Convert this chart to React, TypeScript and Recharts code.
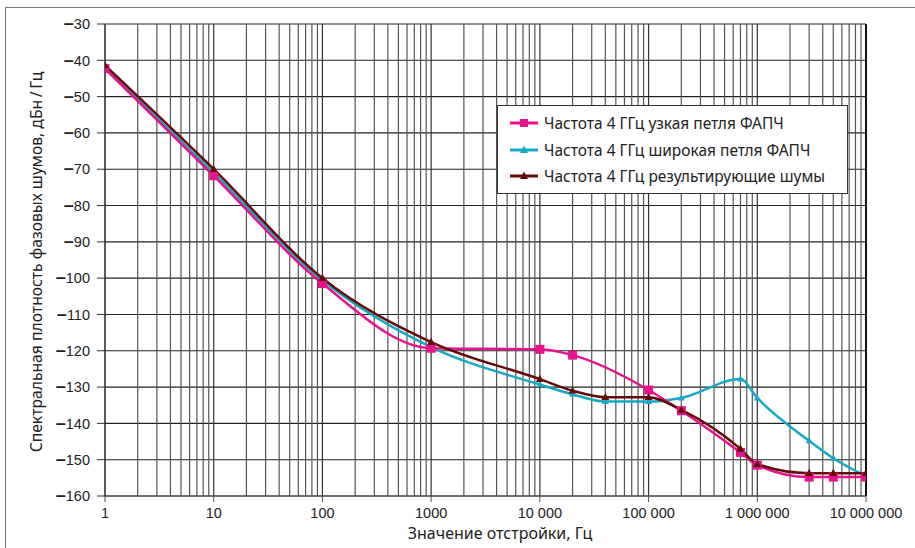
import React from 'react';
import { LineChart, Line, XAxis, YAxis, CartesianGrid, ReferenceLine, Legend, Label } from 'recharts';

// ---- data ----
const xTicks = [1, 10, 100, 1000, 10000, 100000, 1000000, 10000000];
const xTickLabels = ['1', '10', '100', '1000', '10 000', '100 000', '1 000 000', '10 000 000'];
const yTicks = [-160, -150, -140, -130, -120, -110, -100, -90, -80, -70, -60, -50, -40, -30];
const minorMultipliers = [2, 3, 4, 5, 6, 7, 8, 9];

const narrowX = [1, 10, 100, 1000, 10000, 20000, 100000, 200000, 700000, 1000000, 3000000, 5000000, 10000000];
const narrowY = [-42.3, -71.8, -101.5, -119.3, -119.6, -121.2, -130.8, -136.5, -148, -151.5, -154.8, -154.8, -154.8];

const wideX = [1, 10, 100, 1000, 10000, 20000, 40000, 100000, 200000, 700000, 1000000, 3000000, 5000000, 10000000];
const wideY = [-42, -71, -100.6, -119, -129.3, -132, -134, -134, -133, -127.8, -133, -144.8, -149.6, -154.5];

const totalX = [1, 10, 100, 1000, 10000, 20000, 40000, 100000, 200000, 700000, 1000000, 3000000, 5000000, 10000000];
const totalY = [-41.4, -70, -100, -117.6, -127.8, -131, -132.8, -132.8, -136.3, -147, -151.2, -153.7, -153.7, -153.7];

const seriesNames = [
  'Частота 4 ГГц узкая петля ФАПЧ',
  'Частота 4 ГГц широкая петля ФАПЧ',
  'Частота 4 ГГц результирующие шумы',
];
const seriesColors = ['#e8128a', '#16a9c3', '#640c0c'];

const toPoints = (xs: number[], ys: number[]) => xs.map((x, i) => ({ x, y: ys[i] }));
const narrowData = toPoints(narrowX, narrowY);
const wideData = toPoints(wideX, wideY);
const totalData = toPoints(totalX, totalY);

const minorLines: number[] = [];
xTicks.slice(0, -1).forEach((d) => minorMultipliers.forEach((m) => minorLines.push(d * m)));

// ---- markers ----
const squareDot = (color: string, s: number) => (props: any) => {
  const { cx, cy, index } = props;
  if (cx == null || cy == null) return <g key={`sq-${index}`} />;
  return <rect key={`sq-${index}`} x={cx - s / 2} y={cy - s / 2} width={s} height={s} fill={color} />;
};
const triDot = (color: string, s: number, prefix: string) => (props: any) => {
  const { cx, cy, index } = props;
  if (cx == null || cy == null) return <g key={`${prefix}-${index}`} />;
  const h = s * 0.9;
  return (
    <polygon
      key={`${prefix}-${index}`}
      points={`${cx},${cy - h * 0.6} ${cx - s / 2},${cy + h * 0.4} ${cx + s / 2},${cy + h * 0.4}`}
      fill={color}
    />
  );
};

const YTick = (props: any) => {
  const { x, y, payload } = props;
  const v = payload.value as number;
  return (
    <text
      x={x}
      y={y}
      dy="0.36em"
      textAnchor="end"
      style={{ fontFamily: '"Liberation Sans", Arial, sans-serif', fontSize: 14.5, fill: '#222' }}
    >
      {v < 0 ? <tspan style={{ fontWeight: 700, fontSize: 18 }}>{'\u2013'}</tspan> : null}
      {`${Math.abs(v)}`}
    </text>
  );
};

const LegendIcon = ({ color, kind }: { color: string; kind: string }) => (
  <svg width={28} height={12} style={{ display: 'block' }}>
    <line x1={0} y1={6} x2={28} y2={6} stroke={color} strokeWidth={3} />
    {kind === 'square' ? (
      <rect x={10} y={2} width={8} height={8} fill={color} />
    ) : (
      <polygon points="14,1.5 10,9 18,9" fill={color} />
    )}
  </svg>
);

const renderLegend = () => (
  <div
    style={{
      width: 351,
      height: 89,
      boxSizing: 'border-box',
      border: '1.5px solid #333',
      background: '#fff',
      padding: '4px 6px 4px 12px',
      fontFamily: '"Noto Sans", sans-serif',
      fontSize: 15.5,
      color: '#222',
    }}
  >
    {seriesNames.map((name, i) => (
      <div key={name} style={{ display: 'flex', alignItems: 'center', height: 26.5 }}>
        <LegendIcon color={seriesColors[i]} kind={i === 0 ? 'square' : 'tri'} />
        <span style={{ marginLeft: 6, whiteSpace: 'nowrap' }}>{name}</span>
      </div>
    ))}
  </div>
);

const tickFont = { fontFamily: '"Liberation Sans", Arial, sans-serif', fontSize: 14.5, fill: '#222' };

export default function App() {
  return (
    <div style={{ position: 'absolute', left: 0, top: 0, width: 915, height: 548, background: '#fff' }}>
      <div
        style={{
          position: 'absolute',
          left: 5,
          top: 7,
          width: 910,
          height: 541,
          borderTop: '1.5px solid #777',
          borderLeft: '1.5px solid #777',
        }}
      />
      <LineChart
        width={915}
        height={548}
        margin={{ top: 24, right: 49, bottom: 0, left: 0 }}
        style={{ position: 'absolute', left: 0, top: 0 }}
      >
        <CartesianGrid vertical={false} stroke="#222" strokeWidth={1.1} />
        {minorLines.map((v) => (
          <ReferenceLine key={`m-${v}`} x={v} stroke="#555" strokeWidth={1.2} />
        ))}
        {xTicks.map((v, i) => (
          <ReferenceLine
            key={`d-${v}`}
            x={v}
            stroke={i === xTicks.length - 1 ? '#111' : '#333'}
            strokeWidth={i === xTicks.length - 1 ? 2 : 1.2}
          />
        ))}
        <XAxis
          dataKey="x"
          type="number"
          scale="log"
          domain={[1, 10000000]}
          ticks={xTicks}
          allowDataOverflow
          height={52}
          tickSize={6}
          tickMargin={6}
          tick={tickFont}
          stroke="#555"
          tickFormatter={(v: number) => xTickLabels[xTicks.indexOf(v)] ?? ''}
        >
          <Label
            content={() => (
              <text
                x={500}
                y={539}
                textAnchor="middle"
                style={{ fontFamily: '"Noto Sans", sans-serif', fontSize: 16, fill: '#222' }}
              >
                Значение отстройки, Гц
              </text>
            )}
          />
        </XAxis>
        <YAxis
          type="number"
          domain={[-160, -30]}
          ticks={yTicks}
          width={105}
          tickSize={8}
          tickMargin={7}
          tick={<YTick />}
          stroke="#333"
        >
          <Label
            content={() => (
              <text
                x={42}
                y={262}
                textAnchor="middle"
                transform="rotate(-90 42 262)"
                style={{ fontFamily: '"Noto Sans", sans-serif', fontSize: 15.7, fill: '#222' }}
              >
                Спектральная плотность фазовых шумов, дБн{'\u2009'}/{'\u2009'}Гц
              </text>
            )}
          />
        </YAxis>
        <Legend
          layout="horizontal"
          verticalAlign="middle"
          align="center"
          content={renderLegend}
          wrapperStyle={{ position: 'absolute', left: 497, top: 105, width: 351, height: 89 }}
        />
        <Line
          data={wideData}
          dataKey="y"
          name={seriesNames[1]}
          type="monotoneX"
          stroke={seriesColors[1]}
          strokeWidth={2.5}
          dot={triDot(seriesColors[1], 7, 'w')}
          activeDot={false}
          isAnimationActive={false}
        />
        <Line
          data={narrowData}
          dataKey="y"
          name={seriesNames[0]}
          type="monotoneX"
          stroke={seriesColors[0]}
          strokeWidth={2.5}
          dot={squareDot(seriesColors[0], 9)}
          activeDot={false}
          isAnimationActive={false}
        />
        <Line
          data={totalData}
          dataKey="y"
          name={seriesNames[2]}
          type="monotoneX"
          stroke={seriesColors[2]}
          strokeWidth={2.5}
          dot={triDot(seriesColors[2], 8, 't')}
          activeDot={false}
          isAnimationActive={false}
        />
      </LineChart>
    </div>
  );
}
